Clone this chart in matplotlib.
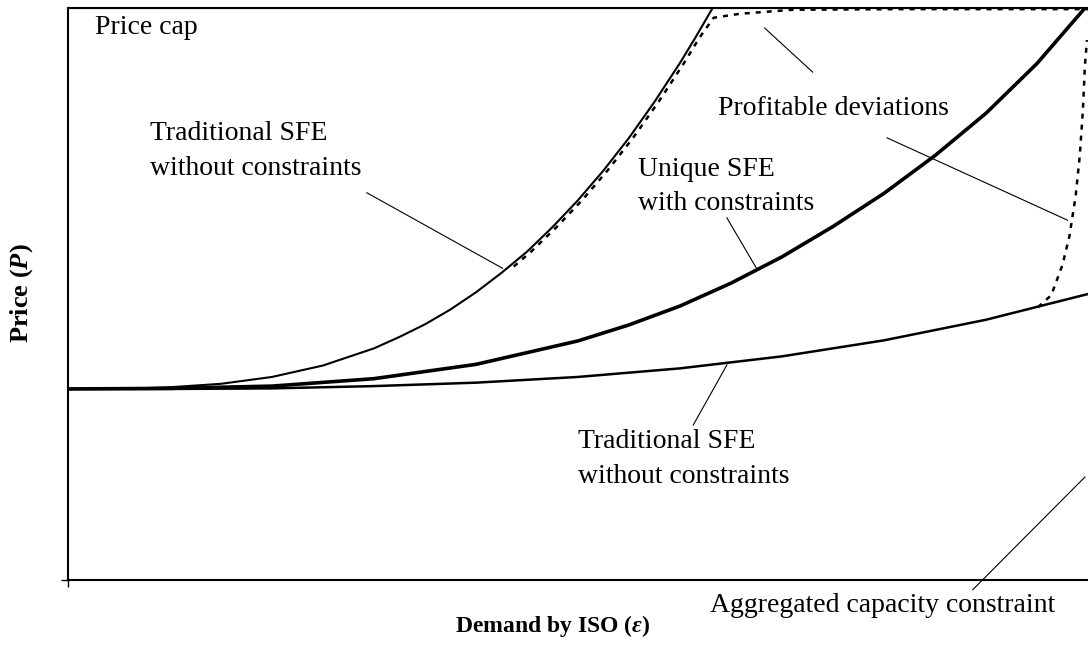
import matplotlib.pyplot as plt

plt.rcParams['font.family'] = ['Liberation Serif', 'DejaVu Serif']
plt.rcParams['mathtext.fontset'] = 'custom'
plt.rcParams['mathtext.rm'] = 'Liberation Serif:bold'
plt.rcParams['mathtext.it'] = 'Liberation Serif:italic:bold'

# curves (x: demand 0-100, y: price 0-100, 100 = price cap)
trad_x = [0, 5, 10, 15, 20, 25, 30, 32.5, 35, 37.5, 40, 42.5, 45, 47.5, 50, 52.5, 55, 57.5, 60, 61.5, 63.2]
trad_y = [33.4, 33.4, 33.7, 34.3, 35.5, 37.5, 40.5, 42.5, 44.7, 47.3, 50.3, 53.7, 57.4, 61.7, 66.4, 71.6,
          77.3, 83.6, 90.4, 94.8, 100]

uniq_x = [0, 10, 20, 30, 40, 50, 55, 60, 65, 70, 75, 80, 85, 90, 95, 99.7]
uniq_y = [33.4, 33.5, 33.9, 35.2, 37.7, 41.8, 44.6, 47.9, 51.9, 56.5, 61.8, 67.6, 74.2, 81.6, 90.3, 100]

low_x = [0, 10, 20, 30, 40, 50, 60, 70, 80, 90, 100]
low_y = [33.4, 33.4, 33.5, 33.9, 34.5, 35.5, 37.0, 39.1, 41.9, 45.5, 50.0]

dev1_x = [43.7, 45.4, 47.9, 50.4, 52.9, 55.4, 57.9, 60.4, 61.9, 63.3, 65.9, 71.1, 81.6, 100]
dev1_y = [54.8, 57.4, 61.7, 66.4, 71.6, 77.3, 83.6, 90.4, 94.8, 98.3, 99.0, 99.7, 99.8, 99.8]

dev2_x = [95.1, 96.4, 97.5, 98.2, 98.8, 99.2, 99.5, 99.7, 99.9]
dev2_y = [47.7, 49.8, 55.1, 60.3, 67.3, 74.3, 82.2, 90.0, 94.4]

price_cap = 100

fig = plt.figure(figsize=(10.88, 6.57), dpi=100)
ax = fig.add_axes([0.0625, 0.1172, 0.9375, 0.8706])

ax.plot(trad_x, trad_y, color='black', lw=1.5)
ax.plot(uniq_x, uniq_y, color='black', lw=2.6)
ax.plot(low_x, low_y, color='black', lw=1.8)
ax.plot(dev1_x, dev1_y, color='black', lw=1.8, linestyle=(0, (2, 2.4)))
ax.plot(dev2_x, dev2_y, color='black', lw=1.8, linestyle=(0, (2, 2.4)))
ax.axhline(price_cap, color='black', lw=1.5)

# annotation leaders
leaders = [
    ([29.3, 42.6], [67.7, 54.5]),
    ([64.6, 67.5], [63.3, 54.5]),
    ([61.3, 64.6], [27.1, 37.6]),
    ([68.3, 73.0], [96.5, 88.8]),
    ([80.3, 98.0], [77.3, 62.9]),
    ([88.7, 99.7], [-1.7, 18.0]),
]
for lx, ly in leaders:
    ax.plot(lx, ly, color='black', lw=0.8, clip_on=False)

fs = 20
ax.text(2.6, 95.5, 'Price cap', fontsize=fs, va='baseline')
ax.text(8.0, 76.9, 'Traditional SFE', fontsize=fs, va='baseline')
ax.text(8.0, 70.8, 'without constraints', fontsize=fs, va='baseline')
ax.text(55.9, 70.6, 'Unique SFE', fontsize=fs, va='baseline')
ax.text(55.9, 64.7, 'with constraints', fontsize=fs, va='baseline')
ax.text(63.7, 81.3, 'Profitable deviations', fontsize=fs, va='baseline')
ax.text(50.0, 23.1, 'Traditional SFE', fontsize=fs, va='baseline')
ax.text(50.0, 17.0, 'without constraints', fontsize=fs, va='baseline')
ax.text(62.9, -5.6, 'Aggregated capacity constraint', fontsize=fs, va='baseline', clip_on=False)

ax.set_xlim(0, 100)
ax.set_ylim(0, 100)
ax.spines['right'].set_visible(False)
for s in ['left', 'bottom', 'top']:
    ax.spines[s].set_linewidth(1.5)
ax.set_xticks([0])
ax.set_yticks([0])
ax.set_xticklabels([])
ax.set_yticklabels([])
ax.tick_params(direction='out', length=5, width=1)

fig.text(553 / 1088, 1 - 632 / 657, r'Demand by ISO ($\varepsilon$)', fontsize=17,
         fontweight='bold', ha='center', va='baseline')
fig.text(22 / 1088, 1 - 293 / 657, r'Price ($P$)', fontsize=19, fontweight='bold',
         rotation=90, ha='center', va='center')

fig.savefig('out.png', dpi=100)
